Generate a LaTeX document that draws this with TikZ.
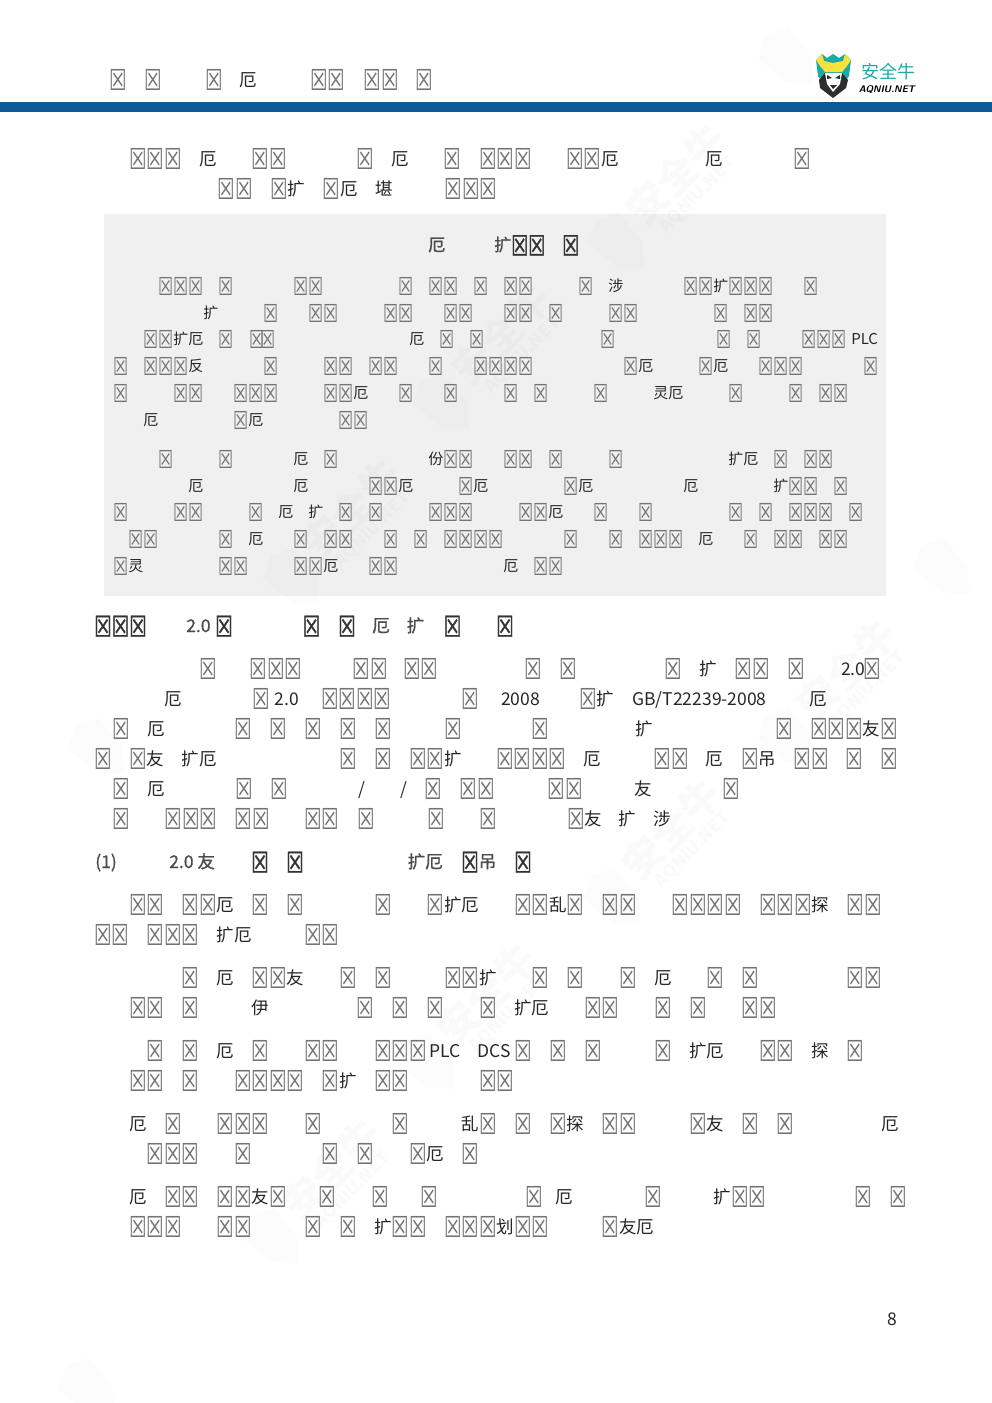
\documentclass[tikz,border=0pt]{standalone}
\usepackage{fontspec}
\usepackage{newunicodechar}
\setmainfont{Noto Sans CJK SC}
\newfontfamily\tofuthin[FakeStretch=0.68,Scale=1.65]{DejaVu Sans}
\newfontfamily\tofuthick[FakeStretch=0.68,Scale=1.65,FakeBold=1]{DejaVu Sans}
\newfontfamily\headmain[FakeBold=1]{Noto Sans CJK SC}
\let\tofufont\tofuthin
\def\tofucol{black!55}
\newcommand{\tofubox}{\makebox[1em][c]{\raisebox{-.27em}{\color{\tofucol}\tofufont\symbol{"2612}}}}
\newunicodechar{☒}{\tofubox}
\definecolor{barblue}{RGB}{14,90,152}
\definecolor{boxgray}{RGB}{240,240,240}
\definecolor{logoteal}{RGB}{27,170,165}
\definecolor{logoyel}{RGB}{250,226,60}
\definecolor{logodark}{RGB}{45,45,45}
\tikzset{
		bodytext/.style={
			anchor=base west, inner sep=0pt, yshift=-4.5pt, text=black!85, font=\fontsize{13.125}{16}\selectfont},
		boxtext/.style={
			bodytext, yshift=0.6pt, font=\fontsize{11.25}{14}\selectfont},
		headtext/.style={
			bodytext, text=black!70, font=\fontsize{13.125}{16}\selectfont\headmain\let\tofufont\tofuthick\def\tofucol{black!80}},
		boxhead/.style={
			headtext, font=\fontsize{12.75}{16}\selectfont\headmain\let\tofufont\tofuthick\def\tofucol{black!80}},
		wshield/.pic={
			\fill[black, opacity=0.012] (-22,-24) -- (0,-34) -- (22,-24) -- (18,14) -- (0,34) -- (-18,14) -- cycle;
		},
		wmark/.pic={
			\fill[black, opacity=0.012] (-22,-24) -- (0,-34) -- (22,-24) -- (18,14) -- (0,34) -- (-18,14) -- cycle;
			\node[black, opacity=0.018, inner sep=0pt, transform shape, font=\fontsize{30}{30}\selectfont\bfseries] (wm) at (90,-10) {安全牛};
			\node[black, opacity=0.018, inner sep=0pt, transform shape, font=\fontsize{13}{13}\selectfont\bfseries] (wn) at (90,20) {AQNIU.NET};
		},
	}

\begin{document}
\begin{tikzpicture}[x=0.75pt, y=-0.75pt]
			\useasboundingbox (0,0) rectangle (992,1403);
			% band and shaded box
			\fill[barblue] (0,102.3) rectangle (992,112.3);
			\fill[boxgray] (104,214) rectangle (886,596);
			% watermarks
			\foreach \wx/\wy in {620/245,445/405,295/580,790/740,615/900,430/1065,275/1240}
				\pic[rotate=45] at (\wx,\wy) {wmark};
			\foreach \wx/\wy in {790/60,100/750,945/570,90/1390}
				\pic[rotate=45] at (\wx,\wy) {wshield};
			% logo
			\fill[logoteal] (816,60) -- (818,76) -- (825,86) -- (842,86) -- (849,76) -- (851,60) -- (845,54) -- (839,58) -- (833,54) -- (827,58) -- (822,54) -- cycle;
			\fill[logoyel] (816,60) -- (822,54) -- (824,61) -- (820,66) -- cycle (851,60) -- (845,54) -- (843,61) -- (847,66) -- cycle;
			\fill[logoyel] (820,66) -- (824,61) -- (833,63) -- (843,61) -- (847,66) -- (842,72) -- (825,72) -- cycle;
			\fill[logodark] (819,80) -- (825,73) -- (842,73) -- (848,80) -- (846,88) -- (833,98) -- (820,88) -- cycle;
			\fill[white] (825,73) -- (842,73) -- (840,84) -- (833,92) -- (827,84) -- cycle;
			\fill[logodark] (827,75) -- (832,78) -- (827,79) -- cycle (840,75) -- (835,78) -- (840,79) -- cycle (830,85) -- (837,85) -- (833,89) -- cycle;
			\node[anchor=base west, inner sep=0pt, text=logoteal, font=\fontsize{13.5}{14}\selectfont] (lg1) at (861,78.5) {安全牛};
			\node[anchor=base west, inner sep=0pt, text=black, font=\fontsize{7.2}{8}\selectfont\sffamily\bfseries\itshape] (lg2) at (858.5,92) {AQNIU.NET};
			% page head
			\node[bodytext] (h1) at (109,80) {☒};
			\node[bodytext] (h2) at (144,80) {☒};
			\node[bodytext] (h3) at (205,80) {☒};
			\node[bodytext] (h4) at (239,80) {厄};
			\node[bodytext] (h5) at (310,80) {☒☒};
			\node[bodytext] (h6) at (363.5,80) {☒☒};
			\node[bodytext] (h7) at (415,80) {☒};
			% first lines
			\node[bodytext] (a1) at (129,159) {☒☒☒　厄　　☒☒};
			\node[bodytext] (a2) at (356,159) {☒　厄　　☒};
			\node[bodytext] (a3) at (479,159) {☒☒☒};
			\node[bodytext] (a4) at (566,159) {☒☒厄};
			\node[bodytext] (a5) at (705,159) {厄};
			\node[bodytext] (a6) at (793.5,159) {☒};
			\node[bodytext] (a7) at (217.5,189) {☒☒　☒扩　☒厄　堪};
			\node[bodytext] (a8) at (444.5,189) {☒☒☒};
			% shaded box
			\node[boxhead] (t1) at (428,245) {厄};
			\node[boxhead] (t2) at (494,245) {扩☒☒};
			\node[boxhead] (t3) at (562,245) {☒};
			\node[boxtext] (l1) at (113,286) {　　　☒☒☒　☒　　　　☒☒　　　　　☒　☒☒　☒　☒☒　　　☒　涉　　　　☒☒扩☒☒☒　　☒};
			\node[boxtext] (l2) at (113,313) {　　　　　　扩　　　☒　　☒☒　　　☒☒　　☒☒　　☒☒　☒　　　☒☒　　　　　☒　☒☒};
			\node[boxtext] (l3a) at (113,339) {　　☒☒扩厄　☒};
			\node[boxtext] (l3b) at (249,339) {☒};
			\node[boxtext] (l3c) at (260,339) {☒};
			\node[boxtext] (l3d) at (409,339) {厄};
			\node[boxtext] (l3e) at (439,339) {☒};
			\node[boxtext] (l3f) at (469,339) {☒};
			\node[boxtext] (l3g) at (600,339) {☒};
			\node[boxtext] (l3h) at (716,339) {☒};
			\node[boxtext] (l3i) at (746,339) {☒};
			\node[boxtext] (l3j) at (801,339) {☒☒☒};
			\node[boxtext] (l3k) at (851,339) {PLC};
			\node[boxtext] (l4) at (113,366) {☒　☒☒☒反　　　　☒　　　☒☒　☒☒　　☒　　☒☒☒☒　　　　　　☒厄　　　☒厄　　☒☒☒　　　　☒};
			\node[boxtext] (l5) at (113,393) {☒　　　☒☒　　☒☒☒　　　☒☒厄　　☒　　☒　　　☒　☒　　　☒　　　灵厄　　　☒　　　☒　☒☒};
			\node[boxtext] (l6) at (113,420) {　　厄　　　　　☒厄　　　　　☒☒};
			\node[boxtext] (m1) at (113,459) {　　　☒　　　☒　　　　厄　☒　　　　　　份☒☒　　☒☒　☒　　　☒　　　　　　　扩厄　☒　☒☒};
			\node[boxtext] (m2) at (113,486) {　　　　　厄　　　　　　厄　　　　☒☒厄　　　☒厄　　　　　☒厄　　　　　　厄　　　　　扩☒☒　☒};
			\node[boxtext] (m3) at (113,512) {☒　　　☒☒　　　☒　厄　扩　☒　☒　　　☒☒☒　　　☒☒厄　　☒　　☒　　　　　☒　☒　☒☒☒　☒};
			\node[boxtext] (m4) at (113,539) {　☒☒　　　　☒　厄　　☒　☒☒　　☒　☒　☒☒☒☒　　　　☒　　☒　☒☒☒　厄　　☒　☒☒　☒☒};
			\node[boxtext] (m5) at (113,566) {☒灵　　　　　☒☒　　　☒☒厄　　☒☒　　　　　　　厄　☒☒};
			% section heading
			\node[headtext] (s1) at (94,626) {☒☒☒};
			\node[headtext] (s2) at (186,626) {2.0};
			\node[headtext] (s3) at (215,626) {☒};
			\node[headtext] (s4) at (302.5,626) {☒};
			\node[headtext] (s5) at (338,626) {☒};
			\node[headtext] (s6) at (372,626) {厄};
			\node[headtext] (s7) at (406.5,626) {扩};
			\node[headtext] (s8) at (443.5,626) {☒};
			\node[headtext] (s9) at (496,626) {☒};
			% first paragraph
			\node[bodytext] (q1a) at (199.5,669) {☒};
			\node[bodytext] (q1b) at (249.5,669) {☒☒☒};
			\node[bodytext] (q1c) at (352.5,669) {☒☒};
			\node[bodytext] (q1d) at (402.8,669) {☒☒};
			\node[bodytext] (q1e) at (524,669) {☒};
			\node[bodytext] (q1f) at (559,669) {☒};
			\node[bodytext] (q1g) at (664,669) {☒};
			\node[bodytext] (q1h) at (699,669) {扩};
			\node[bodytext] (q1i) at (734.5,669) {☒☒};
			\node[bodytext] (q1j) at (787,669) {☒};
			\node[bodytext] (q1k) at (841,669) {2.0};
			\node[bodytext] (q1l) at (863.5,669) {☒};
			\node[bodytext] (q2a) at (164.5,699) {厄};
			\node[bodytext] (q2b) at (252,699) {☒};
			\node[bodytext] (q2c) at (274.3,699) {2.0};
			\node[bodytext] (q2d) at (321,699) {☒☒☒☒};
			\node[bodytext] (q2e) at (461,699) {☒};
			\node[bodytext] (q2f) at (501,699) {2008};
			\node[bodytext] (q2g) at (579,699) {☒扩};
			\node[bodytext] (q2h) at (632,699) {GB/T22239-2008};
			\node[bodytext] (q2i) at (809.5,699) {厄};
			\node[bodytext] (q3a) at (112,729) {☒　厄};
			\node[bodytext] (q3b) at (234.5,729) {☒};
			\node[bodytext] (q3c) at (269.5,729) {☒};
			\node[bodytext] (q3d) at (304,729) {☒};
			\node[bodytext] (q3e) at (339,729) {☒};
			\node[bodytext] (q3f) at (374.5,729) {☒};
			\node[bodytext] (q3g) at (444.5,729) {☒};
			\node[bodytext] (q3h) at (531,729) {☒};
			\node[bodytext] (q3i) at (635,729) {扩};
			\node[bodytext] (q3j) at (775,729) {☒};
			\node[bodytext] (q3k) at (810,729) {☒☒☒友☒};
			\node[bodytext] (q4a) at (94,759) {☒　☒友　扩厄};
			\node[bodytext] (q4b) at (339,759) {☒};
			\node[bodytext] (q4c) at (374.5,759) {☒};
			\node[bodytext] (q4d) at (409,759) {☒☒扩};
			\node[bodytext] (q4e) at (496,759) {☒☒☒☒};
			\node[bodytext] (q4f) at (583,759) {厄};
			\node[bodytext] (q4g) at (653.5,759) {☒☒};
			\node[bodytext] (q4h) at (705,759) {厄};
			\node[bodytext] (q4i) at (741,759) {☒吊};
			\node[bodytext] (q4j) at (793.5,759) {☒☒};
			\node[bodytext] (q4k) at (845,759) {☒};
			\node[bodytext] (q4l) at (880,759) {☒};
			\node[bodytext] (q5a) at (112,789) {☒　厄};
			\node[bodytext] (q5b) at (235,789) {☒};
			\node[bodytext] (q5c) at (270,789) {☒};
			\node[bodytext] (q5d) at (358,789) {/};
			\node[bodytext] (q5e) at (400,789) {/};
			\node[bodytext] (q5f) at (424.5,789) {☒};
			\node[bodytext] (q5g) at (459.5,789) {☒☒};
			\node[bodytext] (q5h) at (547.5,789) {☒☒};
			\node[bodytext] (q5i) at (634,789) {友};
			\node[bodytext] (q5j) at (722.5,789) {☒};
			\node[bodytext] (q6a) at (112,819) {☒};
			\node[bodytext] (q6b) at (164.5,819) {☒☒☒　☒☒};
			\node[bodytext] (q6c) at (304,819) {☒☒};
			\node[bodytext] (q6d) at (357.5,819) {☒};
			\node[bodytext] (q6e) at (427.5,819) {☒};
			\node[bodytext] (q6f) at (479,819) {☒};
			\node[bodytext] (q6g) at (567,819) {☒友};
			\node[bodytext] (q6h) at (618.5,819) {扩};
			\node[bodytext] (q6i) at (653.5,819) {涉};
			% sub heading
			\node[headtext] (u1) at (95,862) {(1)};
			\node[headtext] (u2) at (169,862) {2.0 友};
			\node[headtext] (u3) at (251,862) {☒};
			\node[headtext] (u4) at (286,862) {☒};
			\node[headtext] (u5) at (407.5,862) {扩厄};
			\node[headtext] (u6) at (461,862) {☒吊};
			\node[headtext] (u7) at (514,862) {☒};
			% list paragraphs
			\node[bodytext] (p1a) at (94,905) {　　☒☒　☒☒厄　☒　☒　　　　☒　　☒扩厄　　☒☒乱☒　☒☒　　☒☒☒☒　☒☒☒探　☒☒};
			\node[bodytext] (p1b) at (94,935) {☒☒　☒☒☒　扩厄　　　☒☒};
			\node[bodytext] (p2a) at (94,978) {　　　　　☒　厄　☒☒友　　☒　☒　　　☒☒扩　　☒　☒　　☒　厄　　☒　☒　　　　　☒☒};
			\node[bodytext] (p2b) at (94,1008) {　　☒☒　☒　　　伊　　　　　☒　☒　☒　　☒　扩厄　　☒☒　　☒　☒　　☒☒};
			\node[bodytext] (p3a) at (94,1051) {　　　☒　☒　厄　☒　　☒☒　　☒☒☒};
			\node[bodytext] (p3b) at (429.5,1051) {PLC};
			\node[bodytext] (p3c) at (477.5,1051) {DCS};
			\node[bodytext] (p3d) at (514,1051) {☒　☒　☒　　　☒　扩厄　　☒☒　探　☒};
			\node[bodytext] (p3e) at (94,1081) {　　☒☒　☒　　☒☒☒☒　☒扩　☒☒　　　　☒☒};
			\node[bodytext] (p4a) at (94,1124) {　　厄　☒　　☒☒☒　　☒　　　　☒　　　乱☒　☒　☒探　☒☒　　　☒友　☒　☒　　　　　厄};
			\node[bodytext] (p4b) at (94,1154) {　　　☒☒☒　　☒　　　　☒　☒　　☒厄　☒};
			\node[bodytext] (p5a) at (94,1197) {　　厄　☒☒　☒☒友☒};
			\node[bodytext] (p5b) at (318.5,1197) {☒};
			\node[bodytext] (p5c) at (371,1197) {☒};
			\node[bodytext] (p5d) at (420,1197) {☒};
			\node[bodytext] (p5e) at (525,1197) {☒};
			\node[bodytext] (p5f) at (555,1197) {厄};
			\node[bodytext] (p5g) at (644.5,1197) {☒};
			\node[bodytext] (p5h) at (713.5,1197) {扩☒☒};
			\node[bodytext] (p5i) at (854,1197) {☒};
			\node[bodytext] (p5j) at (889,1197) {☒};
			\node[bodytext] (p5k) at (94,1227) {　　☒☒☒　　☒☒　　　☒　☒　扩☒☒　☒☒☒划☒☒　　　☒友厄};
			% page number
			\node[bodytext] (num) at (887,1319) {8};
			\end{tikzpicture}
\end{document}
